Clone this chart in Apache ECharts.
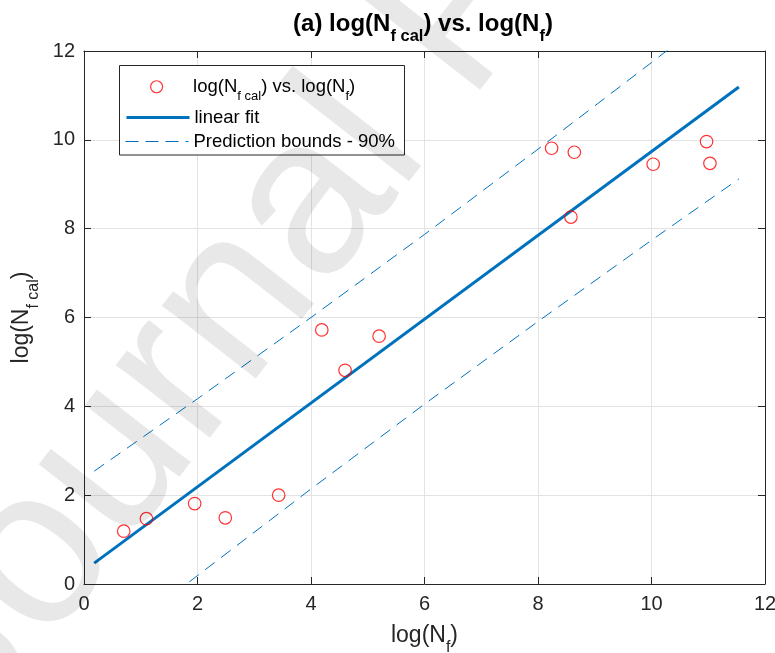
<!DOCTYPE html>
<html>
<head>
<meta charset="utf-8">
<script src="https://cdn.jsdelivr.net/npm/echarts@6/dist/echarts.min.js"></script>
<style>
  html, body { margin: 0; padding: 0; background: #ffffff; }
  #chart { width: 775px; height: 653px; }
</style>
</head>
<body>
<div id="chart"></div>
<script>
// Measured points: log(Nf) against calculated log(Nf cal)
const logNf    = [0.70, 1.10, 1.95, 2.49, 3.43, 4.19, 4.60, 5.20, 8.24, 8.64, 8.58, 10.03, 10.97, 11.03];
const logNfCal = [1.19, 1.47, 1.81, 1.49, 2.00, 5.72, 4.81, 5.58, 9.81, 9.72, 8.26, 9.45, 9.96, 9.47];

// Linear fit, end points
const fitX = [0.18, 11.54];
const fitY = [0.47, 11.19];

// 90% prediction bounds
const boundX     = [0.18, 2, 4, 6, 8, 10, 11.54];
const upperBound = [2.54, 4.17, 6.00, 7.87, 9.79, 11.74, 13.26];
const lowerBound = [-1.60, 0.19, 2.14, 4.05, 5.91, 7.74, 9.12];

// Axis range and tick step (both axes)
const axisMin = 0;
const axisMax = 12;
const tickStep = 2;

const FONT = '"Liberation Sans", Arial, Helvetica, sans-serif';
const INK = '#262626';
const BLUE = '#0072BD';
const RED = '#FF0000';

const pairs = (xs, ys) => xs.map((x, i) => [x, ys[i]]);

// rich styles: normal text + lowered subscript
function subRich(size, subSize, pad, weight, color) {
  return {
    m: { fontSize: size, lineHeight: size, verticalAlign: 'top', fontFamily: FONT, fontWeight: weight, color: color },
    s: { fontSize: subSize, lineHeight: subSize, padding: [pad, 0, 0, 0], verticalAlign: 'top', fontFamily: FONT, fontWeight: weight, color: color }
  };
}

function valueAxis(extra) {
  return Object.assign({
    type: 'value',
    min: axisMin,
    max: axisMax,
    interval: tickStep,
    axisLine: { show: true, onZero: false, lineStyle: { color: INK, width: 1 } },
    axisTick: { show: true, inside: true, length: 7, lineStyle: { color: INK, width: 1 } },
    axisLabel: { show: true, color: INK, fontSize: 20, fontFamily: FONT },
    splitLine: { show: true, lineStyle: { color: '#e3e3e3', width: 1 } }
  }, extra);
}

function mirrorAxis(position) {
  return valueAxis({
    position: position,
    axisLabel: { show: false },
    splitLine: { show: false }
  });
}

// line legend entries: hide the marker ECharts puts in the middle of the line
const noMarker = { color: 'rgba(0,0,0,0)', borderWidth: 0, opacity: 0 };

const chart = echarts.init(document.getElementById('chart'), null, { renderer: 'canvas' });

const option = {
  animation: false,
  backgroundColor: '#ffffff',
  title: {
    text: '{m|(a) log(N}{s|f cal}{m|) vs. log(N}{s|f}{m|)}',
    left: 423,
    top: 12,
    padding: 0,
    textAlign: 'center',
    textVerticalAlign: 'top',
    textStyle: {
      fontFamily: FONT, fontSize: 24, fontWeight: 'bold', color: '#000',
      rich: subRich(24, 16.5, 16, 'bold', '#000')
    }
  },
  grid: { left: 84, top: 51, width: 681, height: 533, containLabel: false, outerBoundsMode: 'none' },
  xAxis: [
    valueAxis({
      position: 'bottom',
      name: '{m|log(N}{s|f}{m|)}',
      nameLocation: 'middle',
      nameGap: 40,
      nameTextStyle: { fontFamily: FONT, fontSize: 23, color: INK, rich: subRich(23, 16, 16, 'normal', INK) },
      axisLabel: { show: true, color: INK, fontSize: 20, fontFamily: FONT, margin: 10 }
    }),
    mirrorAxis('top')
  ],
  yAxis: [
    valueAxis({
      position: 'left',
      name: '{m|log(N}{s|f cal}{m|)}',
      nameLocation: 'middle',
      nameRotate: 90,
      nameGap: 45,
      nameTextStyle: { fontFamily: FONT, fontSize: 23, color: INK, rich: subRich(23, 16, 16, 'normal', INK) },
      axisLabel: { show: true, color: INK, fontSize: 20, fontFamily: FONT, margin: 9 }
    }),
    mirrorAxis('right')
  ],
  legend: [
    {
      data: [{ name: 'points', itemStyle: { color: 'rgba(0,0,0,0)', borderColor: RED, borderWidth: 1.2 } }],
      left: 150, top: 77.5, padding: 0, itemWidth: 63, itemHeight: 12, itemGap: 0,
      selectedMode: false, z: 6,
      formatter: () => '{m|log(N}{s|f cal}{m|) vs. log(N}{s|f}{m|)}',
      textStyle: { fontFamily: FONT, fontSize: 18.5, color: '#000', rich: subRich(18.5, 13, 12, 'normal', '#000') }
    },
    {
      data: ['linear fit'],
      left: 125, top: 108, padding: 0, itemWidth: 63, itemHeight: 20, itemGap: 0,
      selectedMode: false, z: 6,
      itemStyle: noMarker,
      lineStyle: { color: BLUE, width: 3, type: 'solid' },
      textStyle: { fontFamily: FONT, fontSize: 18.5, lineHeight: 18, color: '#000' }
    },
    {
      data: ['Prediction bounds - 90%'],
      left: 125, top: 132, padding: 0, itemWidth: 63, itemHeight: 20, itemGap: 0,
      selectedMode: false, z: 6,
      itemStyle: noMarker,
      lineStyle: { color: BLUE, width: 1, type: [13, 7] },
      textStyle: { fontFamily: FONT, fontSize: 18.5, lineHeight: 18, color: '#000' }
    }
  ],
  graphic: [
    {
      type: 'rect', z: 5, silent: true,
      shape: { x: 119.5, y: 65.5, width: 285, height: 89.5 },
      style: { fill: '#ffffff', stroke: INK, lineWidth: 1 }
    },
    {
      type: 'text', z: 100, silent: true,
      x: 462, y: 12, rotation: 0.91,
      style: {
        text: 'Journal Pre-proof',
        font: '225px "Liberation Sans", Arial, sans-serif',
        fill: 'rgba(0,0,0,0.09)',
        align: 'center', verticalAlign: 'middle'
      }
    }
  ],
  series: [
    {
      name: 'Prediction bounds - 90%',
      type: 'line',
      data: pairs(boundX, upperBound),
      symbol: 'none', clip: true, silent: true, z: 2,
      lineStyle: { color: BLUE, width: 1, type: [12, 8] }
    },
    {
      name: 'Prediction bounds - 90%',
      type: 'line',
      data: pairs(boundX, lowerBound),
      symbol: 'none', clip: true, silent: true, z: 2,
      lineStyle: { color: BLUE, width: 1, type: [12, 8] }
    },
    {
      name: 'linear fit',
      type: 'line',
      data: pairs(fitX, fitY),
      symbol: 'none', clip: true, silent: true, z: 3,
      lineStyle: { color: BLUE, width: 3 }
    },
    {
      name: 'points',
      type: 'scatter',
      data: pairs(logNf, logNfCal),
      symbol: 'circle', symbolSize: 12.5, silent: true, z: 4,
      itemStyle: { color: 'rgba(0,0,0,0)', borderColor: RED, borderWidth: 1.2 }
    }
  ]
};

chart.setOption(option);
</script>
</body>
</html>
